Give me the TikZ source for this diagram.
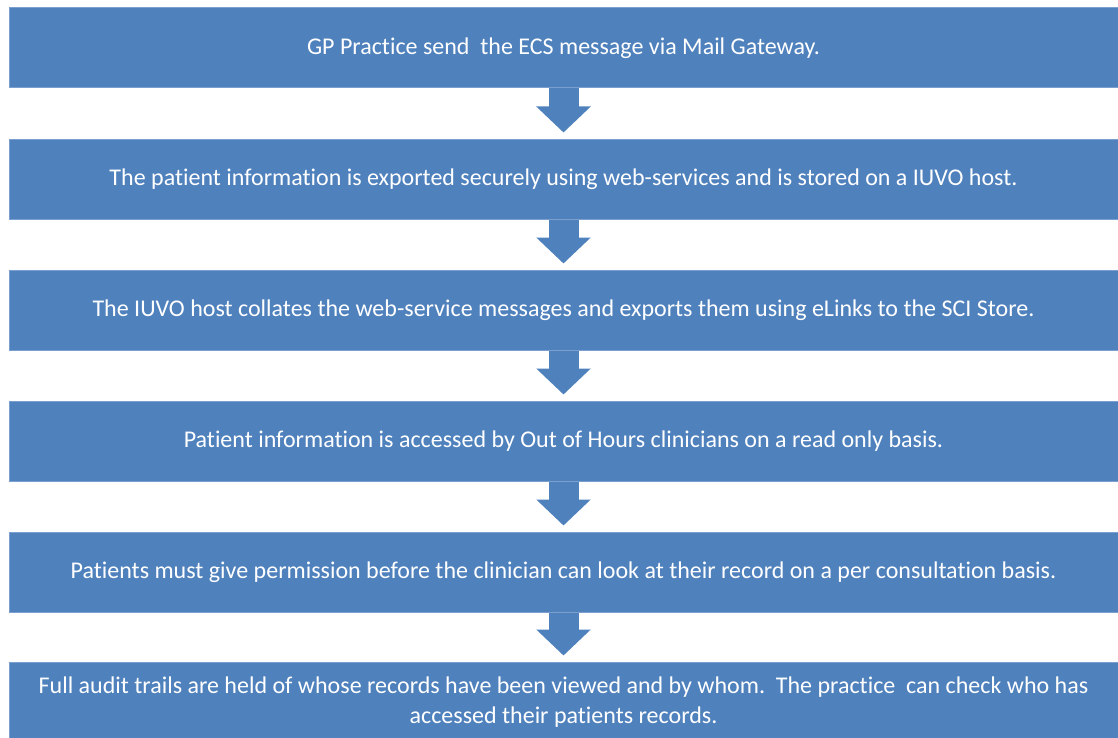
\documentclass[tikz,border=0pt]{standalone}
\usepackage{fontspec}
\setmainfont{Carlito}[Ligatures=NoCommon]
\usetikzlibrary{arrows.meta}
\definecolor{boxblue}{HTML}{4F81BD}
\definecolor{boxedge}{HTML}{7B9FCF}
\begin{document}
\begin{tikzpicture}[x=0.5pt,y=-0.5pt,
    stepbox/.style={fill=boxblue,draw=boxedge,line width=0.5pt,text=white,
      align=flush center,font=\fontsize{12}{15}\selectfont,
      minimum width=554.5pt,minimum height=40pt,text width=540pt,inner sep=0pt},
    blockarrow/.style={boxblue,line width=15pt,shorten >=3pt,
      -{Triangle[width=26.5pt,length=13pt]}}]
    \useasboundingbox (0,0) rectangle (1118,738);

    % flow steps
    \node [stepbox, name=s1] at (563.5,48) {GP Practice send\ \ the ECS message via Mail Gateway.};
    \node [stepbox, name=s2] at (563.5,179) {The patient information is exported securely using web-services and is stored on a IUVO host.};
    \node [stepbox, name=s3] at (563.5,310) {The IUVO host collates the web-service messages and exports them using eLinks to the SCI Store.};
    \node [stepbox, name=s4] at (563.5,441) {Patient information is accessed by Out of Hours clinicians on a read only basis.};
    \node [stepbox, name=s5] at (563.5,572) {Patients must give permission before the clinician can look at their record on a per consultation basis.};
    \node [stepbox, name=s6] at (563.5,702) {Full audit trails are held of whose records have been viewed and by whom.\ \ The practice\ \ can check who has accessed their patients records.};

    % arrows between steps
    \draw [blockarrow] (s1) -- (s2);
    \draw [blockarrow] (s2) -- (s3);
    \draw [blockarrow] (s3) -- (s4);
    \draw [blockarrow] (s4) -- (s5);
    \draw [blockarrow] (s5) -- (s6);
\end{tikzpicture}
\end{document}
